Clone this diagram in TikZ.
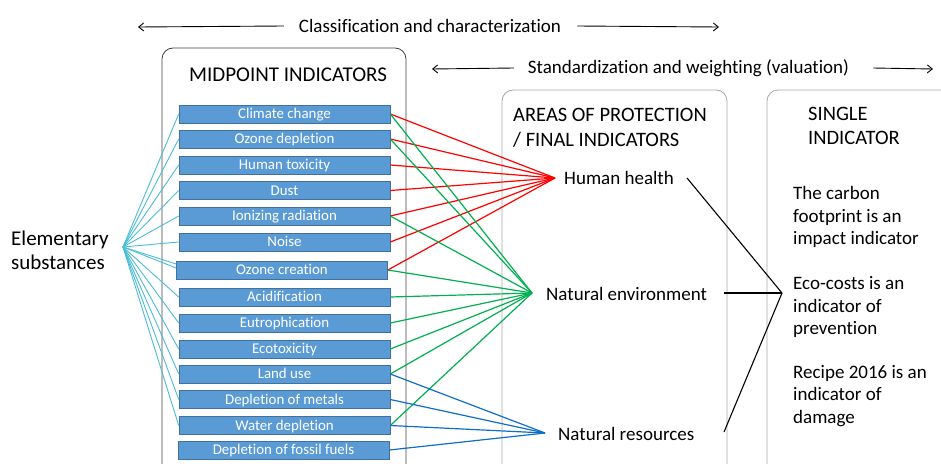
\documentclass[tikz,border=0pt]{standalone}
\usepackage{fontspec}
\setmainfont{Carlito}[Ligatures={NoCommon}]
\usetikzlibrary{arrows.meta}
\definecolor{boxblue}{HTML}{5B9BD5}
\definecolor{boxedge}{HTML}{41719C}
\definecolor{lred}{HTML}{FF0000}
\definecolor{lgreen}{HTML}{00B050}
\definecolor{lblue}{HTML}{0F6FC6}
\definecolor{lcyan}{HTML}{4BBCD6}
\definecolor{panelgray}{HTML}{A6A6A6}
\definecolor{paneldark}{HTML}{404040}
\begin{document}
\begin{tikzpicture}[x=1pt,y=-1pt,
  mid/.style={draw=boxedge,line width=0.6pt,fill=boxblue,text=white,minimum width=211pt,minimum height=18pt,inner sep=0pt,text height=11.5pt,text depth=2pt,font=\fontsize{14.9}{17}\selectfont},
  panel/.style={rounded corners=11pt,line width=0.8pt},
  lbl/.style={inner sep=0pt,font=\fontsize{19}{22.7}\selectfont,align=left},
  title/.style={inner sep=0pt,font=\fontsize{20.5}{24.5}\selectfont,align=left},
  cyl/.style={lcyan,line width=0.9pt},
  redl/.style={lred,line width=1.2pt},
  grnl/.style={lgreen,line width=1.2pt},
  blul/.style={lblue,line width=1.2pt},
  blkl/.style={black,line width=1.1pt},
  arr/.style={line width=0.9pt,-{Straight Barb[length=5pt,width=8pt]}}
]
\useasboundingbox (0,0) rectangle (941,463);

% panels
\draw[panel,paneldark] (162,468) -- (162,48) -- (406,48) -- (406,468);
\draw[panel,panelgray] (502,470) -- (502,90) -- (727,90) -- (727,470);
\draw[panel,panelgray] (767,470) -- (767,90) -- (960,90) -- (960,470);

% top arrows and labels
\node[lbl] (cls) at (430,26) {Classification and characterization};
\coordinate (clsL) at (138,27);
\coordinate (clsR) at (719,27);
\draw[arr] ([xshift=-15pt]cls.west) -- (clsL);
\draw[arr] ([xshift=16pt]cls.east) -- (clsR);

\node[lbl] (std) at (688.5,68) {Standardization and weighting (valuation)};
\coordinate (stdL) at (432,69);
\coordinate (stdR) at (933,69);
\draw[arr] ([xshift=-14pt]std.west) -- (stdL);
\draw[arr] ([xshift=24pt]std.east) -- (stdR);

% titles
\node[title,font=\fontsize{21}{25}\selectfont] (tmid) at (288,75) {MIDPOINT INDICATORS};
\node[title,anchor=west] (tarea) at (513,128) {AREAS OF PROTECTION\\/ FINAL INDICATORS};
\node[title,anchor=west] (tsing) at (808,126) {SINGLE\\INDICATOR};

% midpoint boxes
\node[mid] (m1) at (284.5,114) {Climate change};
\node[mid] (m2) at (284.5,139) {Ozone depletion};
\node[mid] (m3) at (284.5,165) {Human toxicity};
\node[mid] (m4) at (284.5,190.5) {Dust};
\node[mid] (m5) at (284.5,216) {Ionizing radiation};
\node[mid] (m6) at (284.5,242) {Noise};
\node[mid] (m7) at (282,270) {Ozone creation};
\node[mid] (m8) at (284.5,297) {Acidification};
\node[mid] (m9) at (284.5,323) {Eutrophication};
\node[mid] (m10) at (284.5,349) {Ecotoxicity};
\node[mid] (m11) at (284.5,374) {Land use};
\node[mid] (m12) at (284.5,399.5) {Depletion of metals};
\node[mid] (m13) at (284.5,425.5) {Water depletion};
\node[mid] (m14) at (283.5,450) {Depletion of fossil fuels};

% left label
\node[lbl,font=\fontsize{21}{24.5}\selectfont,anchor=west] (es) at (11,250.5) {Elementary\\substances};
\coordinate (esh) at (123,247);

% endpoint labels
\node[lbl,anchor=west] (hh) at (564,177.5) {Human health};
\node[lbl,anchor=west] (ne) at (546,293.5) {Natural environment};
\node[lbl,anchor=west] (nr) at (558,433.5) {Natural resources};
\coordinate (hhh) at (555,178);
\coordinate (neh) at (532,293);
\coordinate (nrh) at (545,433);

% single indicator texts
\node[lbl,anchor=west] (t1) at (793,217) {The carbon\\footprint is an\\impact indicator};
\node[lbl,anchor=west] (t2) at (793,307) {Eco-costs is an\\indicator of\\prevention};
\node[lbl,anchor=west] (t3) at (793,396) {Recipe 2016 is an\\indicator of\\damage};
\coordinate (sih) at (782,293);
\coordinate (hhe) at (687,178);
\coordinate (nee) at (724,293);
\coordinate (nre) at (724,432);

% cyan lines
\foreach \i in {1,...,6,8,9,10,11,12,13} \draw[cyl] (esh) -- (m\i.west);
\draw[cyl] (esh) -- ([yshift=6pt]m7.west);
\draw[cyl] (esh) -- ([yshift=2pt]m7.west);

% red lines
\foreach \i in {1,...,7} \draw[redl] (m\i.east) -- (hhh);
% green lines
\foreach \i in {1,2,5,7,8,9,10,11,13} \draw[grnl] (m\i.east) -- (neh);
% blue lines
\foreach \i in {11,12,13,14} \draw[blul] (m\i.east) -- (nrh);

% black lines
\draw[blkl] (hhe) -- (sih);
\draw[blkl] (nee) -- (sih);
\draw[blkl] (nre) -- (sih);
\end{tikzpicture}
\end{document}
